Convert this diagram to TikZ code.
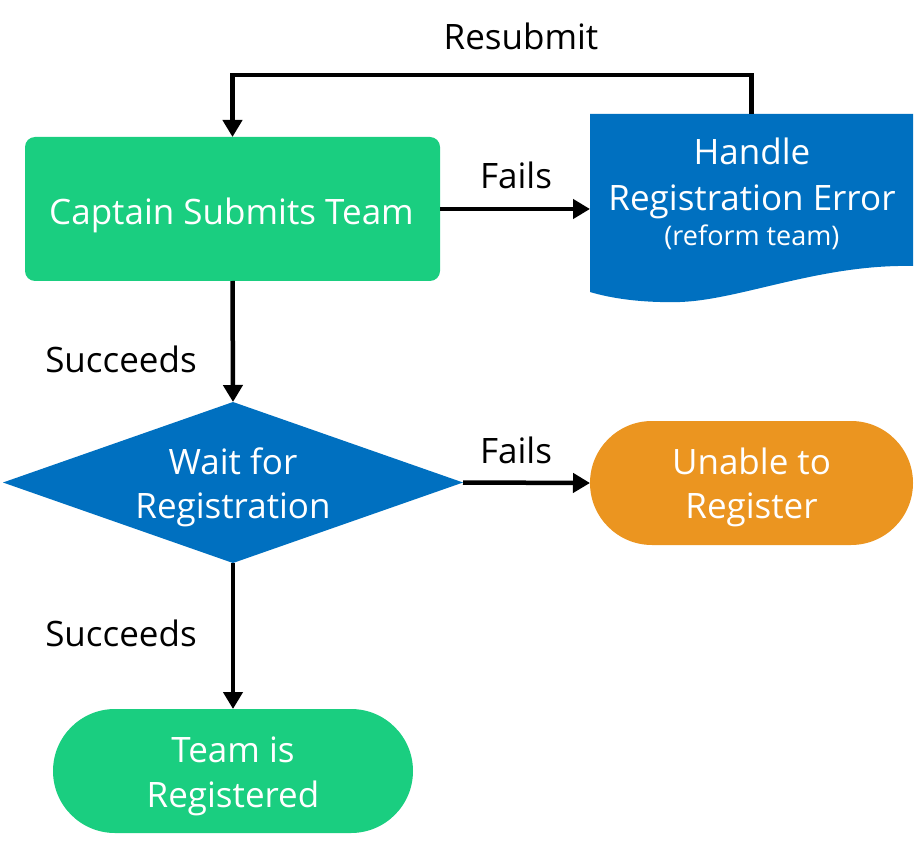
\documentclass[tikz,border=0pt]{standalone}
\usepackage{fontspec}
\setmainfont{Open Sans}
\usetikzlibrary{arrows.meta,shapes.geometric}
\definecolor{flowgreen}{RGB}{26,206,128}
\definecolor{flowblue}{RGB}{0,112,192}
\definecolor{floworange}{RGB}{235,149,32}
\begin{document}
\begin{tikzpicture}[x=1pt,y=-1pt,
  shapebox/.style={inner sep=0pt, outer sep=0pt},
  txt/.style={anchor=base, inner sep=0pt, text=white, font=\fontsize{35}{40}\selectfont},
  lbl/.style={anchor=base, inner sep=0pt, text=black, font=\fontsize{35}{40}\selectfont},
  flowarrow/.style={line width=4.5pt, -{Triangle[length=17pt,width=19pt]}}]
\useasboundingbox (0,0) rectangle (918,842);

% Process step
\node[shapebox, fill=flowgreen, rounded corners=10pt, minimum width=415pt,
  minimum height=144pt] (cst) at (232.5,209) {};
\node[txt] (cst-t) at (231.5,225) {Captain Submits Team};

% Document shape with wavy lower edge
\fill[flowblue] (590,114) -- (913,114) -- (913,266)
  .. controls (820,264) and (740,300) .. (680,302)
  .. controls (640,303) and (610,298) .. (590,292) -- cycle;
\node[shapebox, minimum width=323pt, minimum height=188pt] (err) at (751.5,208) {};
\node[txt] (err-t1) at (752,165) {Handle};
\node[txt] (err-t2) at (752,211) {Registration Error};
\node[txt, font=\fontsize{27}{30}\selectfont] (err-t3) at (752,246) {(reform team)};

% Decision
\node[shapebox, diamond, fill=flowblue, minimum width=460pt, minimum height=161pt]
  (wait) at (233,482.5) {};
\node[txt] (wait-t1) at (233,474) {Wait for};
\node[txt] (wait-t2) at (233,518) {Registration};

% Terminals
\node[shapebox, fill=floworange, rounded corners=62pt, minimum width=323pt,
  minimum height=124pt] (unable) at (751.5,483) {};
\node[txt] (unable-t1) at (751.5,474) {Unable to};
\node[txt] (unable-t2) at (751.5,518) {Register};

\node[shapebox, fill=flowgreen, rounded corners=62pt, minimum width=360pt,
  minimum height=124pt] (done) at (233,771) {};
\node[txt] (done-t1) at (233,762) {Team is};
\node[txt] (done-t2) at (233,807) {Registered};

% Connectors
\draw[flowarrow] (cst.east) -- (cst.east -| err.west);
\draw[flowarrow] (cst.south) -- (wait.north);
\draw[flowarrow] (wait.east) -- (unable.west);
\draw[flowarrow] (wait.south) -- (done.north);
\draw[flowarrow] (err.north) -- ++(0,-39) -| (cst.north);

% Connector labels
\node[lbl] (resub) at (521,50) {Resubmit};
\node[lbl] (fail1) at (516,189) {Fails};
\node[lbl] (succ1) at (121,372) {Succeeds};
\node[lbl] (fail2) at (516,463) {Fails};
\node[lbl] (succ2) at (121,646) {Succeeds};
\end{tikzpicture}
\end{document}
